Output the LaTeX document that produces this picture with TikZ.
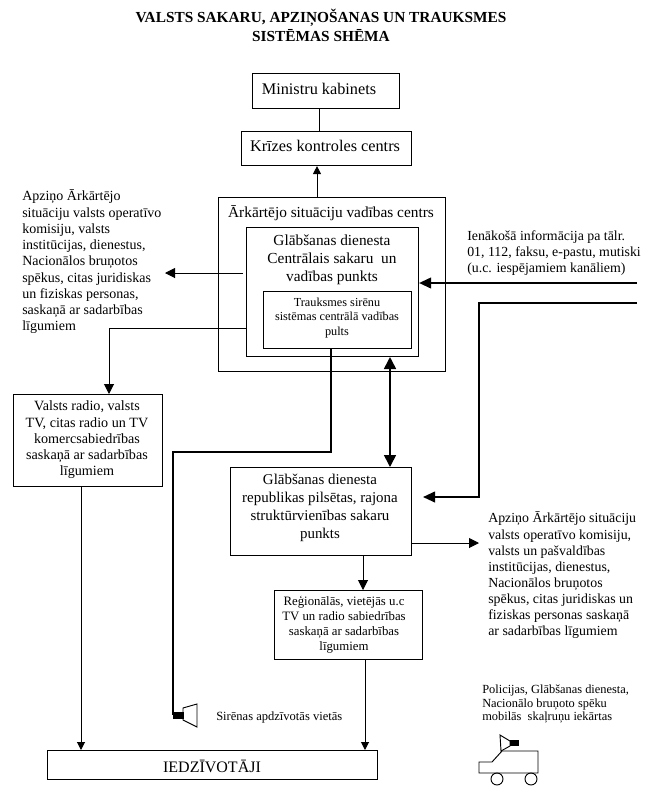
\documentclass[tikz,border=0pt]{standalone}
\usepackage{fontspec}
\setmainfont{Liberation Serif}
\usetikzlibrary{arrows.meta}
\tikzset{
  x=0.75pt,y=-0.75pt,
  boxa/.style={draw,line width=0.8pt,inner sep=0pt,anchor=north west,align=center},
  lab/.style={inner sep=0pt,anchor=west,align=left},
  ctext/.style={inner sep=0pt,align=center},
  plain/.style={line width=0.75pt},
  conn/.style={line width=0.75pt,-{Triangle[length=7.5pt,width=7.5pt]}},
  small/.style={line width=0.75pt,-{Triangle[length=6pt,width=6pt]}},
  heavy/.style={line width=1.4pt,-{Triangle[length=9pt,width=8pt]}},
  both/.style={line width=1.2pt,{Triangle[length=9pt,width=9pt]}-{Triangle[length=9pt,width=9pt]}},
}
\newcommand{\bx}[5]{\node[boxa,minimum width=#3*0.75pt,minimum height=#4*0.75pt] (#5) at (#1,#2) {};}
\begin{document}
\begin{tikzpicture}
\useasboundingbox (0,0) rectangle (650,794);
% title
\node[ctext,font=\bfseries\fontsize{11.5pt}{14.2pt}\selectfont] (title) at (321,25.5) {VALSTS SAKARU, APZIŅOŠANAS UN TRAUKSMES\\SISTĒMAS SHĒMA};
% boxes
\bx{252}{73}{147}{35}{min}
\bx{241}{131}{170}{34}{kri}
\bx{218}{197}{227}{174}{ark}
\bx{246}{227}{172}{129}{gla}
\bx{263}{291}{148}{57}{tra}
\bx{13}{394}{149}{92}{rad}
\bx{230}{467}{181}{88}{rep}
\bx{274}{590}{148}{69}{reg}
\bx{47}{750}{330}{29}{iedz}
% box texts
\node[ctext,font=\fontsize{12.2pt}{14pt}\selectfont] (tmin) at (319,89) {Ministru kabinets};
\node[ctext,font=\fontsize{12.2pt}{14pt}\selectfont] (tkri) at (325,146) {Krīzes kontroles centrs};
\node[ctext,font=\fontsize{11.5pt}{14pt}\selectfont] (tark) at (331,213) {Ārkārtējo situāciju vadības centrs};
\node[ctext,font=\fontsize{11.5pt}{13.6pt}\selectfont] (tgla) at (332,260) {Glābšanas dienesta\\Centrālais sakaru \ un\\vadības punkts};
\node[ctext,font=\fontsize{9.2pt}{11.2pt}\selectfont] (ttra) at (337,318) {Trauksmes sirēnu\\sistēmas centrālā vadības\\pults};
\node[ctext,font=\fontsize{10.6pt}{12.2pt}\selectfont] (trad) at (87,440) {Valsts radio, valsts\\TV, citas radio un TV\\komercsabiedrības\\saskaņā ar sadarbības\\līgumiem};
\node[ctext,font=\fontsize{11.2pt}{13.4pt}\selectfont] (trep) at (320,508) {Glābšanas dienesta\\republikas pilsētas, rajona\\struktūrvienības sakaru\\punkts};
\node[ctext,font=\fontsize{9.6pt}{11.3pt}\selectfont] (treg) at (344,624.5) {Reģionālās, vietējās u.c\\TV un radio sabiedrības\\saskaņā ar sadarbības\\līgumiem};
\node[ctext,font=\fontsize{12pt}{14pt}\selectfont] (tiedz) at (212,766) {IEDZĪVOTĀJI};
% free labels
\node[lab,font=\fontsize{10.5pt}{12.2pt}\selectfont] (l1) at (22,262) {Apziņo Ārkārtējo\\situāciju valsts operatīvo\\komisiju, valsts\\institūcijas, dienestus,\\Nacionālos bruņotos\\spēkus, citas juridiskas\\un fiziskas personas,\\saskaņā ar sadarbības\\līgumiem};
\node[lab,font=\fontsize{10.4pt}{12.2pt}\selectfont] (l2) at (467,253) {Ienākošā informācija pa tālr.\\01, 112, faksu, e-pastu, mutiski\\(u.c. iespējamiem kanāliem)};
\node[lab,font=\fontsize{10.4pt}{12.1pt}\selectfont] (l3) at (488,575.5) {Apziņo Ārkārtējo situāciju\\valsts operatīvo komisiju,\\valsts un pašvaldības\\institūcijas, dienestus,\\Nacionālos bruņotos\\spēkus, citas juridiskas un\\fiziskas personas saskaņā\\ar sadarbības līgumiem};
\node[lab,font=\fontsize{9.4pt}{11pt}\selectfont] (l4) at (216,717) {Sirēnas apdzīvotās vietās};
\node[lab,font=\fontsize{9.3pt}{10pt}\selectfont] (l5) at (482,704) {Policijas, Glābšanas dienesta,\\Nacionālo bruņoto spēku\\mobilās \ skaļruņu iekārtas};
% free connector ends
\coordinate (p1) at (165,273);
\coordinate (p1s) at (243,273);
\coordinate (p2) at (109,328);
\coordinate (in1) at (637,283);
\coordinate (in2) at (637,303);
\coordinate (in2b) at (479,303);
\coordinate (p3) at (423,497);
\coordinate (p4) at (479,543);
\coordinate (sir) at (173,715);
\coordinate (d1) at (390,357);
\coordinate (d2) at (390,467);
% connectors
\draw[small] (ark.north -| 317,0) -- (kri.south -| 317,0);
\draw[plain] (kri.north -| 319,0) -- (min.south -| 319,0);
\draw[conn] (p1s) -- (p1);
\draw[conn] (gla.west |- p2) -- (p2) -- (rad.north -| p2);
\draw[heavy] (in1) -- (gla.east |- in1);
\draw[heavy] (in2) -- (in2b) -- (in2b |- p3) -- (p3);
\draw[both] (d1) -- (d2);
\draw[conn] (rep.east |- p4) -- (p4);
\draw[conn] (rep.south -| 363,0) -- (reg.north -| 363,0);
\draw[small] (reg.south -| 365,0) -- (iedz.north -| 365,0);
\draw[small] (rad.south -| 81,0) -- (iedz.north -| 81,0);
\draw[line width=1.2pt] (tra.south -| 331,0) -- (331,452) -- (sir |- 0,452) -- (sir);
% siren
\fill (173,712) rectangle (184,719);
\draw[line width=0.7pt] (183,708) -- (197,704) -- (197,727) -- (183,720) -- cycle;
% vehicle
\draw[line width=0.7pt] (479,762) -- (492,762) -- (502,751) -- (538,751) -- (538,773) -- (479,773) -- cycle;
\draw[line width=0.7pt] (497,779) circle[radius=6];
\draw[line width=0.7pt] (531,779) circle[radius=6];
\draw[line width=0.7pt] (500,735) -- (510,741) -- (510,746) -- (501,751) -- cycle;
\fill (510,740) rectangle (519,746);
\end{tikzpicture}
\end{document}
